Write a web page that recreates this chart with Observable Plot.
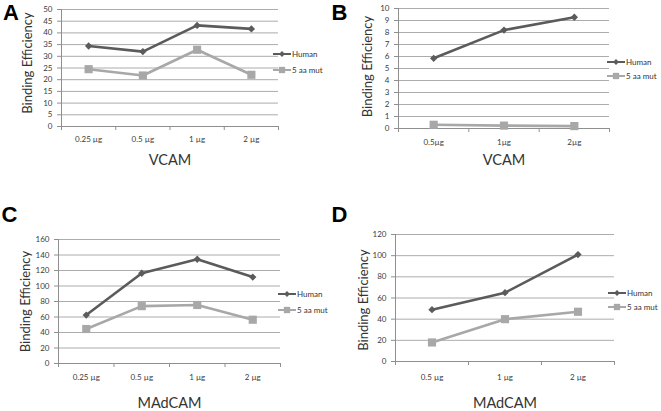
<!DOCTYPE html>
<html><head><meta charset="utf-8">
<script src="https://cdn.jsdelivr.net/npm/d3@7"></script>
<script src="https://cdn.jsdelivr.net/npm/@observablehq/plot@0.6"></script>
<style>
html,body{margin:0;padding:0;background:#fff;}
#root{position:relative;width:661px;height:411px;overflow:hidden;background:#fff;font-family:Lato,sans-serif;}
.panel{position:absolute;}
.panel svg{overflow:visible;}
.letter{position:absolute;font-family:"Liberation Sans",Arial,sans-serif;font-weight:bold;font-size:22px;line-height:1;color:#000;}
.lg{position:absolute;height:10px;display:flex;align-items:center;font-family:Lato,sans-serif;font-size:8px;color:#333;white-space:nowrap;}
.lg svg{display:block;margin-right:1px;}
</style>
</head><body>
<div id="root"></div>
<script>
// ---- data ----
const seriesNames = ["Human", "5 aa mut"];
const seriesColors = ["#5b5b5b", "#a8a8a8"];
const panelLetters = ["A", "B", "C", "D"];
const yTitle = "Binding Efficiency";

const catsA = ["0.25 µg", "0.5 µg", "1 µg", "2 µg"];
const humanA = [34.4, 32.0, 43.2, 41.7];
const mutA = [24.5, 21.8, 32.8, 22.1];
const yTicksA = [0, 5, 10, 15, 20, 25, 30, 35, 40, 45, 50];

const catsB = ["0.5µg", "1µg", "2µg"];
const humanB = [5.85, 8.2, 9.27];
const mutB = [0.31, 0.24, 0.2];
const yTicksB = [0, 1, 2, 3, 4, 5, 6, 7, 8, 9, 10];

const catsC = ["0.25 µg", "0.5 µg", "1 µg", "2 µg"];
const humanC = [62.5, 116.5, 134.5, 111.5];
const mutC = [44.5, 74, 75.5, 56.5];
const yTicksC = [0, 20, 40, 60, 80, 100, 120, 140, 160];

const catsD = ["0.5 µg", "1 µg", "2 µg"];
const humanD = [49, 65, 101];
const mutD = [18, 40, 47];
const yTicksD = [0, 20, 40, 60, 80, 100, 120];

const xTitles = ["VCAM", "VCAM", "MAdCAM", "MAdCAM"];

// ---- layout (per panel) ----
const layouts = [
  {left: 0,   top: 0,   w: 330, h: 200, mt: 9,  mr: 52, mb: 74, ml: 61, catPad: 10, xDy: 34, yOff: 34, yDy: -5,
   legend: {x: 273, y: [54, 70]}, letter: [3, 1.5]},
  {left: 330, top: 0,   w: 331, h: 200, mt: 8,  mr: 52, mb: 72, ml: 68, catPad: 11, xDy: 32, yOff: 31, yDy: -2,
   legend: {x: 607, y: [62, 76]}, letter: [331.5, 1.5]},
  {left: 0,   top: 205, w: 330, h: 206, mt: 34, mr: 50, mb: 48, ml: 58, catPad: 11, xDy: 40, yOff: 33, yDy: 0,
   legend: {x: 278, y: [294, 310]}, letter: [1.5, 204]},
  {left: 330, top: 205, w: 331, h: 206, mt: 29, mr: 47, mb: 50, ml: 65, catPad: 13, xDy: 42, yOff: 32, yDy: 2,
   legend: {x: 608, y: [293, 307]}, letter: [331.5, 204]}
];

const panelsData = [
  {cats: catsA, human: humanA, mut: mutA, yTicks: yTicksA},
  {cats: catsB, human: humanB, mut: mutB, yTicks: yTicksB},
  {cats: catsC, human: humanC, mut: mutC, yTicks: yTicksC},
  {cats: catsD, human: humanD, mut: mutD, yTicks: yTicksD}
];

const axisGray = "#8f8f8f";
const gridGray = "#acacac";
const tickText = "#3c3c3c";

function makePanel(pd, L, xTitle) {
  const n = pd.cats.length;
  const rows = [];
  pd.cats.forEach((c, i) => {
    rows.push({i, s: seriesNames[0], v: pd.human[i]});
    rows.push({i, s: seriesNames[1], v: pd.mut[i]});
  });
  const idx = d3.range(n);
  const bounds = d3.range(n + 1).map(k => k - 0.5);
  const yMax = pd.yTicks[pd.yTicks.length - 1];
  return Plot.plot({
    width: L.w, height: L.h,
    marginTop: L.mt, marginRight: L.mr, marginBottom: L.mb, marginLeft: L.ml,
    style: {fontFamily: "Lato, sans-serif", background: "transparent", overflow: "visible"},
    x: {domain: [-0.5, n - 0.5], axis: null},
    y: {domain: [0, yMax], axis: null},
    color: {domain: seriesNames, range: seriesColors},
    marks: [
      Plot.gridY(pd.yTicks.filter(t => t > 0), {stroke: gridGray, strokeOpacity: 1, strokeWidth: 1}),
      Plot.ruleY(pd.yTicks, {x1: -0.5, x2: -0.5, insetLeft: -4, stroke: axisGray}),
      Plot.ruleX([-0.5], {stroke: axisGray}),
      Plot.ruleY([0], {stroke: axisGray}),
      Plot.ruleX(bounds, {y1: 0, y2: 0, insetBottom: -4, stroke: axisGray}),
      Plot.axisY(pd.yTicks, {tickSize: 0, tickPadding: 9, fontSize: 8, fill: tickText, label: null}),
      Plot.axisX(idx, {tickSize: 0, tickPadding: L.catPad, tickFormat: i => pd.cats[i], fontSize: 8, fill: tickText, label: null}),
      Plot.line(rows, {x: "i", y: "v", z: "s", stroke: "s", strokeWidth: 2.6}),
      Plot.dot(rows.filter(d => d.s === seriesNames[0]), {x: "i", y: "v", symbol: "diamond2", r: 3.3, fill: seriesColors[0], stroke: "none"}),
      Plot.dot(rows.filter(d => d.s === seriesNames[1]), {x: "i", y: "v", symbol: "square", r: 4.6, fill: seriesColors[1], stroke: "none"}),
      Plot.text([xTitle], {text: d => d, frameAnchor: "bottom", dy: L.xDy, fontSize: 14.5, fill: "#333", textAnchor: "middle", lineAnchor: "middle"}),
      Plot.text([yTitle], {text: d => d, frameAnchor: "left", rotate: -90, dx: -L.yOff, dy: L.yDy, fontSize: 13, fill: "#333", textAnchor: "middle", lineAnchor: "middle"})
    ]
  });
}

function legendSwatch(k) {
  const ns = "http://www.w3.org/2000/svg";
  const svg = document.createElementNS(ns, "svg");
  svg.setAttribute("width", 18); svg.setAttribute("height", 10);
  const line = document.createElementNS(ns, "line");
  line.setAttribute("x1", 0); line.setAttribute("x2", 18);
  line.setAttribute("y1", 5); line.setAttribute("y2", 5);
  line.setAttribute("stroke", seriesColors[k]); line.setAttribute("stroke-width", 2);
  svg.appendChild(line);
  const sym = document.createElementNS(ns, "path");
  sym.setAttribute("d", d3.symbol(k === 0 ? d3.symbolDiamond2 : d3.symbolSquare, k === 0 ? 22 : 40)());
  sym.setAttribute("transform", "translate(9,5)");
  sym.setAttribute("fill", seriesColors[k]);
  svg.appendChild(sym);
  return svg;
}

const root = document.getElementById("root");
panelsData.forEach((pd, p) => {
  const L = layouts[p];
  const div = document.createElement("div");
  div.className = "panel";
  div.style.left = L.left + "px"; div.style.top = L.top + "px";
  div.appendChild(makePanel(pd, L, xTitles[p]));
  root.appendChild(div);

  const letter = document.createElement("div");
  letter.className = "letter";
  letter.textContent = panelLetters[p];
  letter.style.left = L.letter[0] + "px"; letter.style.top = L.letter[1] + "px";
  root.appendChild(letter);

  seriesNames.forEach((name, k) => {
    const row = document.createElement("div");
    row.className = "lg";
    row.style.left = L.legend.x + "px";
    row.style.top = (L.legend.y[k] - 5) + "px";
    row.appendChild(legendSwatch(k));
    const t = document.createElement("span");
    t.textContent = name;
    row.appendChild(t);
    root.appendChild(row);
  });
});
</script>
</body></html>
